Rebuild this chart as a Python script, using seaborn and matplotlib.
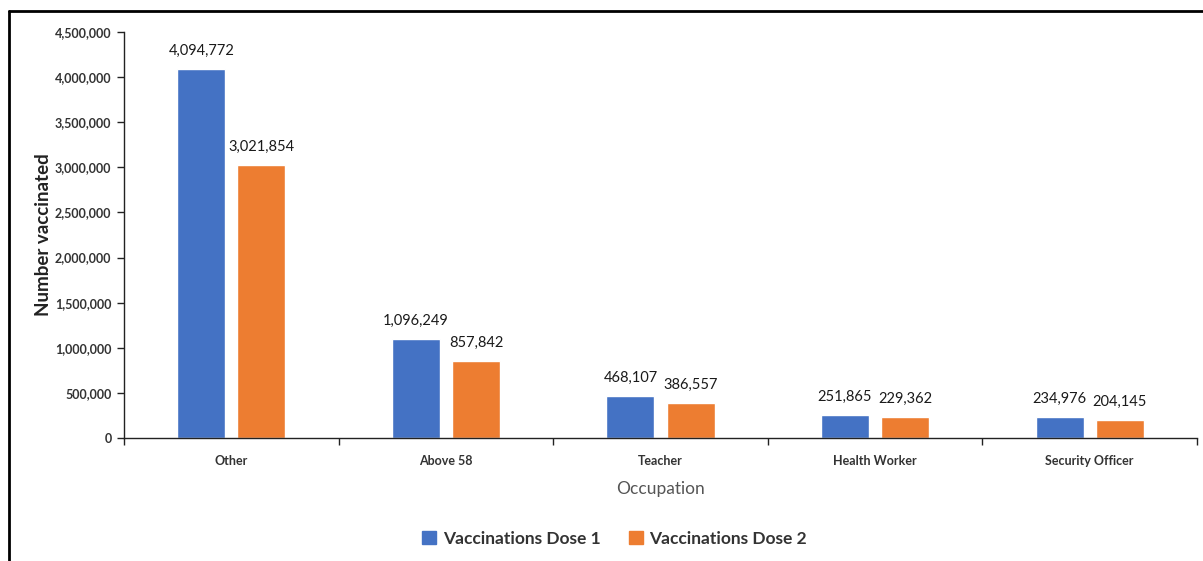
import matplotlib
matplotlib.use("Agg")
import matplotlib.pyplot as plt
import seaborn as sns
import pandas as pd
from matplotlib.lines import Line2D
from matplotlib.ticker import FuncFormatter, FixedLocator

# chart data
occupations = ["Other", "Above 58", "Teacher", "Health Worker", "Security Officer"]
dose1 = [4094772, 1096249, 468107, 251865, 234976]
dose2 = [3021854, 857842, 386557, 229362, 204145]
series = ["Vaccinations Dose 1", "Vaccinations Dose 2"]
colors = ["#4472C4", "#ED7D31"]

df = pd.DataFrame({
    "Occupation": occupations * 2,
    "value": dose1 + dose2,
    "series": [series[0]] * len(occupations) + [series[1]] * len(occupations),
})

sns.set_theme(style="white")
plt.rcParams["font.family"] = ["Lato", "DejaVu Sans"]

fig = plt.figure(figsize=(12.03, 5.61), dpi=100)
ax = fig.add_axes([0.1031, 0.2193, 0.8919, 0.7237])

sns.barplot(data=df, x="Occupation", y="value", hue="series", palette=colors,
            width=0.56, gap=0.2, saturation=1, ax=ax, legend=True)

ax.set_ylim(0, 4500000)
ax.set_xlim(-0.5, 4.5)
ax.yaxis.set_major_locator(FixedLocator(range(0, 4500001, 500000)))
ax.yaxis.set_major_formatter(FuncFormatter(lambda v, p: f"{int(v):,}"))

for c in ax.containers:
    ax.bar_label(c, labels=[f"{int(v):,}" for v in c.datavalues], padding=8,
                 fontsize=10.5, color="#1a1a1a")

for s in ["top", "right"]:
    ax.spines[s].set_visible(False)
for s in ["left", "bottom"]:
    ax.spines[s].set_color("#222222")
    ax.spines[s].set_linewidth(1.0)

ax.tick_params(axis="y", which="major", left=True, length=5, width=1, color="#222222",
               labelsize=9, pad=4)
ax.tick_params(axis="x", which="major", bottom=False, labelsize=9, pad=6)
ax.set_xticks([i - 0.5 for i in range(6)], minor=True)
ax.tick_params(axis="x", which="minor", bottom=True, length=5, width=1, color="#222222")
for t in ax.get_yticklabels() + ax.get_xticklabels():
    t.set_fontweight("bold")
    t.set_color("#333333")

ax.set_ylabel("Number vaccinated", fontsize=13.5, fontweight="bold", color="#222222", labelpad=2)
ax.set_xlabel("Occupation", fontsize=12.5, color="#555555", labelpad=10)

ax.legend_.remove()
handles = [plt.Rectangle((0, 0), 1, 1, color=c) for c in colors]
fig.legend(handles, series, loc="center", bbox_to_anchor=(0.511, 0.04), ncol=2,
           frameon=False, handlelength=0.8, handleheight=0.8, handletextpad=0.4,
           columnspacing=1.6, prop={"size": 12.5, "weight": "bold"},
           labelcolor="#333333")

# outer frame lines (top and left)
fig.add_artist(Line2D([0.0075, 1.0], [0.980, 0.980], color="black", lw=2))
fig.add_artist(Line2D([0.0075, 0.0075], [0.0, 0.980], color="black", lw=2))

fig.savefig("out.png", dpi=100)
